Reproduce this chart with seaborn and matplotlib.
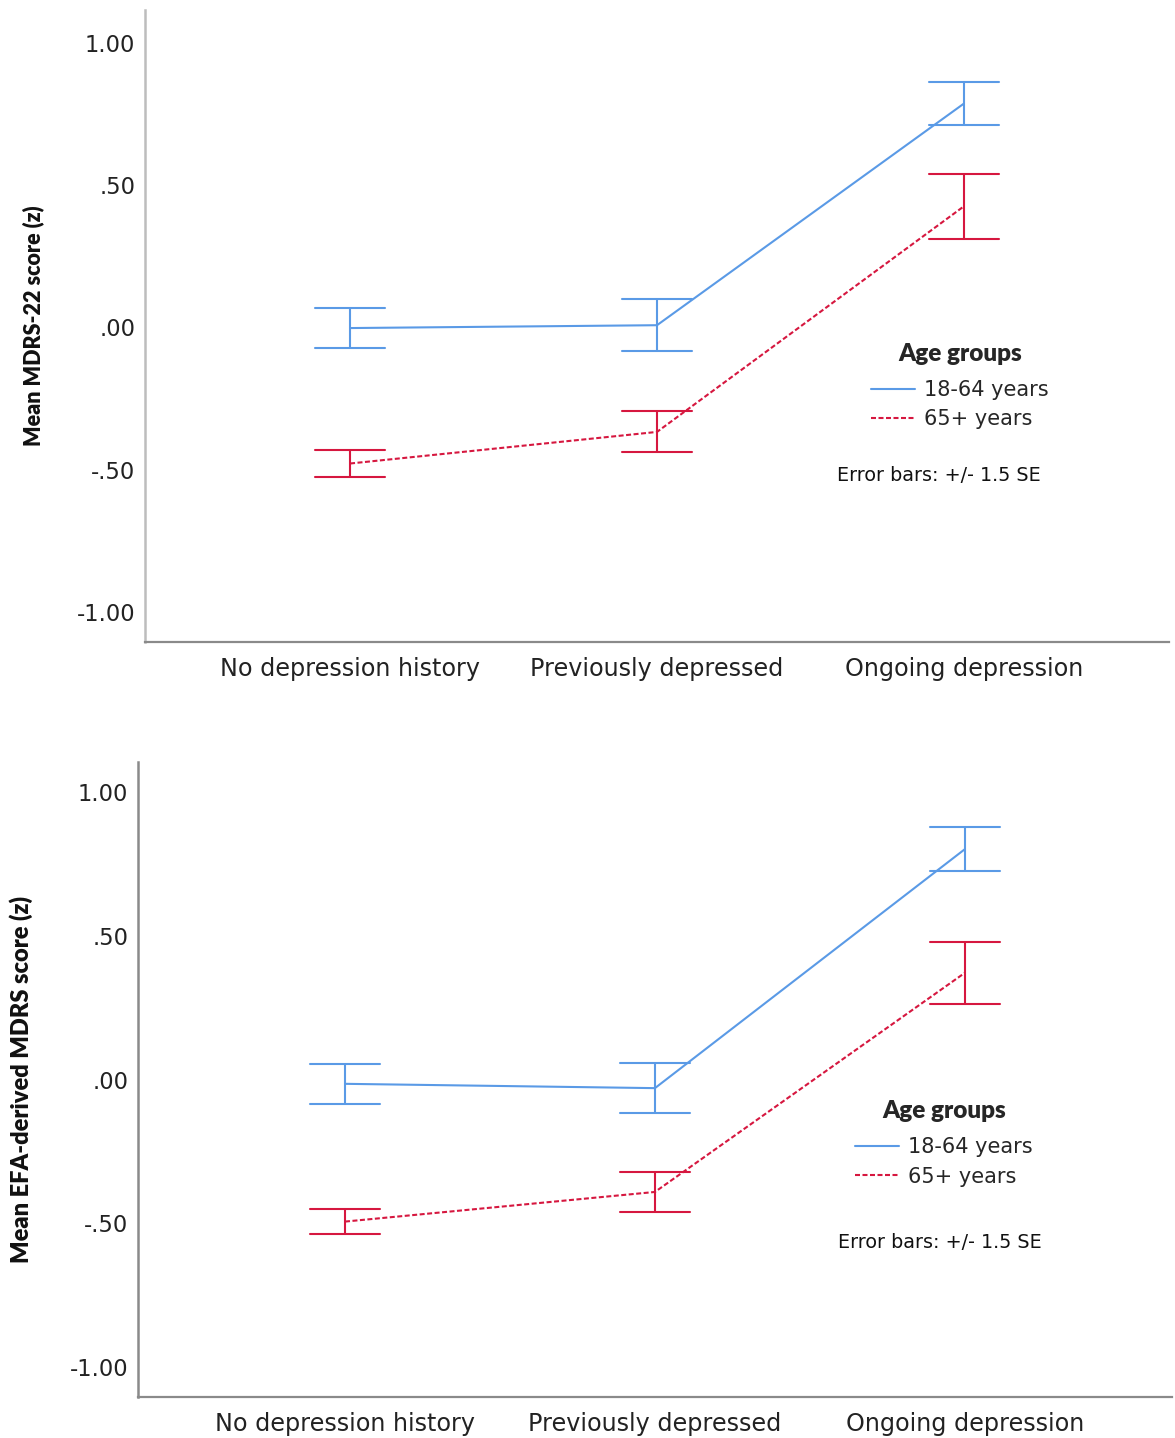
import pandas as pd
import numpy as np
import matplotlib
matplotlib.use("Agg")
import matplotlib.pyplot as plt
from matplotlib.lines import Line2D
import seaborn as sns

# chart values
categories = ["No depression history", "Previously depressed", "Ongoing depression"]
groups = ["18-64 years", "65+ years"]

mdrs22_young_mean = [-0.002, 0.008, 0.787]
mdrs22_young_err = [0.071, 0.092, 0.076]
mdrs22_old_mean = [-0.478, -0.367, 0.426]
mdrs22_old_err = [0.047, 0.072, 0.115]

efa_young_mean = [-0.015, -0.030, 0.801]
efa_young_err = [0.070, 0.088, 0.077]
efa_old_mean = [-0.494, -0.391, 0.371]
efa_old_err = [0.044, 0.069, 0.107]

ytick_values = [-1.0, -0.5, 0.0, 0.5, 1.0]
ytick_labels = ["-1.00", "-.50", ".00", ".50", "1.00"]

blue = "#5a9ae6"
red = "#d6173f"
dashed = (0, (2.4, 1.2))

sns.set_style("white")
plt.rcParams["font.family"] = ["DejaVu Sans"]


def long_table(young_mean, young_err, old_mean, old_err):
    # two rows per cell (mean -/+ half width) so seaborn's min/max interval gives the bar
    rows = []
    for grp, means, errs in [(groups[0], young_mean, young_err), (groups[1], old_mean, old_err)]:
        for cat, m, e in zip(categories, means, errs):
            rows.append({"category": cat, "group": grp, "value": m - e})
            rows.append({"category": cat, "group": grp, "value": m + e})
    return pd.DataFrame(rows)


def draw_panel(ax, df, ylabel, label_size, ylim, label_x, leg_anchor, note_xy, left_spine_color):
    sns.pointplot(data=df, x="category", y="value", hue="group",
                  order=categories, hue_order=groups, palette=[blue, red],
                  markers="", linestyles=["-", dashed],
                  estimator="mean", errorbar=lambda v: (v.min(), v.max()),
                  capsize=0.228, linewidth=1.5, err_kws={"linewidth": 1.5},
                  legend=False, ax=ax)
    ax.set_xlim(-0.668, 2.668)
    ax.set_ylim(*ylim)
    ax.set_yticks(ytick_values)
    ax.set_yticklabels(ytick_labels)
    ax.tick_params(axis="y", length=0, pad=7, labelsize=16.3, labelcolor="#222222")
    ax.tick_params(axis="x", length=0, pad=11, labelsize=17.2, labelcolor="#222222")
    ax.set_xlabel("")
    ax.set_ylabel(ylabel, fontsize=label_size, fontweight="heavy",
                  family=["Lato", "DejaVu Sans"], color="#111111")
    ax.yaxis.set_label_coords(label_x, 0.5)
    for side in ["top", "right"]:
        ax.spines[side].set_visible(False)
    ax.spines["left"].set_color(left_spine_color)
    ax.spines["left"].set_linewidth(1.8)
    ax.spines["bottom"].set_color("#8a8a8a")
    ax.spines["bottom"].set_linewidth(1.6)

    handles = [Line2D([], [], color=blue, lw=1.5),
               Line2D([], [], color=red, lw=1.5, linestyle=dashed)]
    leg = ax.legend(handles, groups, loc="upper center", bbox_to_anchor=leg_anchor,
                    frameon=False, fontsize=15, handlelength=2.1, handletextpad=0.45,
                    labelspacing=0.45, borderpad=0,
                    title="Age groups",
                    title_fontproperties={"weight": "heavy", "size": 17.5,
                                          "family": ["Lato", "DejaVu Sans"]})
    leg._legend_box.sep = 11
    ax.text(note_xy[0], note_xy[1], "Error bars: +/- 1.5 SE", transform=ax.transAxes,
            fontsize=13.8, color="#111111", va="center", ha="left")


fig = plt.figure(figsize=(11.75, 14.38), dpi=100)
ax_top = fig.add_axes([0.1234, 0.5536, 0.8715, 0.4395])
ax_bot = fig.add_axes([0.1174, 0.0285, 0.8800, 0.4416])

draw_panel(ax_top, long_table(mdrs22_young_mean, mdrs22_young_err, mdrs22_old_mean, mdrs22_old_err),
           "Mean MDRS-22 score (z)", 15.5, (-1.105, 1.116), -0.098, (0.796, 0.490), (0.676, 0.263), "#bdbdbd")
draw_panel(ax_bot, long_table(efa_young_mean, efa_young_err, efa_old_mean, efa_old_err),
           "Mean EFA-derived MDRS score (z)", 17, (-1.104, 1.104), -0.1015, (0.7795, 0.484), (0.677, 0.244), "#8a8a8a")

fig.savefig("out.png", dpi=100)
